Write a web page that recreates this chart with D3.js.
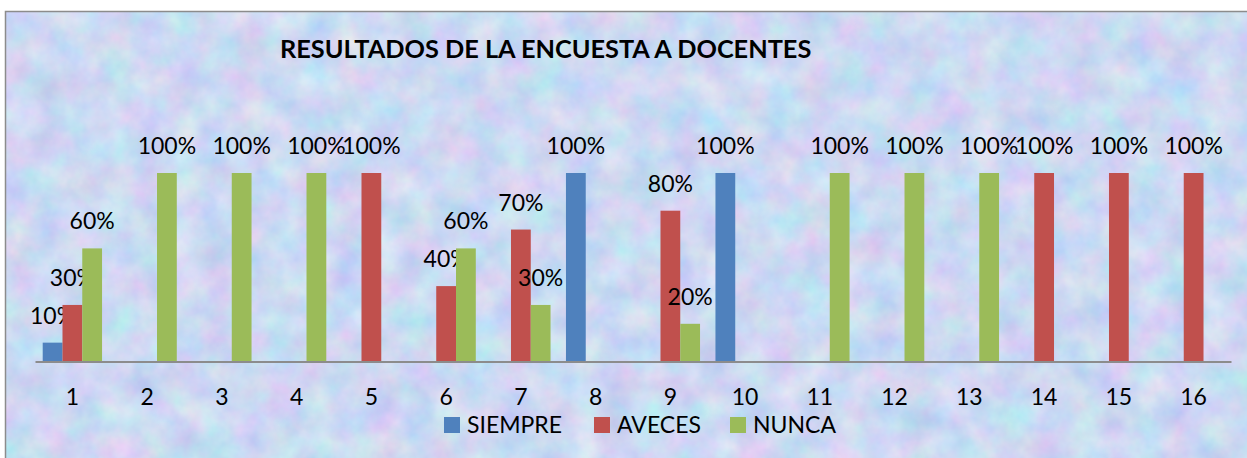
<!DOCTYPE html>
<html>
<head>
<meta charset="utf-8">
<script src="https://d3js.org/d3.v7.min.js"></script>
<style>
  body { margin: 0; background: #fff; }
  svg text { font-family: Lato, "Open Sans", sans-serif; fill: #000; }
</style>
</head>
<body>
<div id="chart"></div>
<script>
// survey data (fractions), one array per series
var categories = ["1","2","3","4","5","6","7","8","9","10","11","12","13","14","15","16"];
var seriesNames = ["SIEMPRE", "AVECES", "NUNCA"];
var siempre = [0.1, 0, 0, 0, 0, 0, 0, 1, 0, 1, 0, 0, 0, 0, 0, 0];
var aveces  = [0.3, 0, 0, 0, 1, 0.4, 0.7, 0, 0.8, 0, 0, 0, 0, 1, 1, 1];
var nunca   = [0.6, 1, 1, 1, 0, 0.6, 0.3, 0, 0.2, 0, 1, 1, 1, 0, 0, 0];
var colors  = ["#4F81BD", "#C0504D", "#9BBB59"];
var title = "RESULTADOS DE LA ENCUESTA A DOCENTES";

function drawChart() {
    var w = 1247, h = 458;
    var values = [siempre, aveces, nunca];

    var svg = d3.select("#chart").append("svg")
        .attr("width", w)
        .attr("height", h);

    // marbled pastel background
    var defs = svg.append("defs");
    var filt = defs.append("filter")
        .attr("id", "marble")
        .attr("color-interpolation-filters", "sRGB")
        .attr("x", 0).attr("y", 0).attr("width", 1).attr("height", 1);
    filt.append("feTurbulence")
        .attr("type", "fractalNoise")
        .attr("baseFrequency", 0.03)
        .attr("numOctaves", 4)
        .attr("seed", 7);
    filt.append("feColorMatrix")
        .attr("type", "matrix")
        .attr("values",
            "0.28 0 0 0 0.66 " +
            "0 0.20 0 0 0.75 " +
            "0 0 0.08 0 0.91 " +
            "0 0 0 0 1");

    svg.append("rect")
        .attr("x", 5.5).attr("y", 11.5)
        .attr("width", 1250).attr("height", 460)
        .attr("filter", "url(#marble)");
    svg.append("rect")
        .attr("x", 5.5).attr("y", 11.5)
        .attr("width", 1250).attr("height", 460)
        .attr("fill", "none")
        .attr("stroke", "#8c8c8c")
        .attr("stroke-width", 1.5);

    svg.append("text")
        .attr("x", 280)
        .attr("y", 58)
        .style("font-size", "25.3px")
        .style("font-weight", "bold")
        .text(title);

    var x0 = d3.scaleBand()
        .domain(categories)
        .range([35, 1231]);

    var x1 = d3.scaleBand()
        .domain(seriesNames)
        .range([0, x0.bandwidth()])
        .paddingOuter(0.39);

    var yScale = d3.scaleLinear()
        .domain([0, 1])
        .range([361.5, 173]);

    var groups = svg.selectAll("g.series")
        .data(seriesNames)
        .enter()
        .append("g")
        .attr("class", "series")
        .style("fill", function(d, i) { return colors[i]; });

    function rows(d, i) {
        return categories.map(function(c, j) {
            return { cat: c, s: d, v: values[i][j] };
        }).filter(function(o) { return o.v > 0; });
    }

    groups.selectAll("rect")
        .data(rows)
        .enter()
        .append("rect")
        .attr("x", function(d) { return x0(d.cat) + x1(d.s); })
        .attr("y", function(d) { return yScale(d.v); })
        .attr("width", x1.bandwidth())
        .attr("height", function(d) { return yScale(0) - yScale(d.v); });

    // value labels
    groups.selectAll("text")
        .data(rows)
        .enter()
        .append("text")
        .attr("x", function(d) { return x0(d.cat) + x1(d.s) + x1.bandwidth() / 2; })
        .attr("y", function(d) { return yScale(d.v) - 19; })
        .attr("text-anchor", "middle")
        .style("fill", "#000")
        .style("font-size", "23px")
        .text(function(d) { return Math.round(d.v * 100) + "%"; });

    // x axis
    var xAxis = d3.axisBottom(x0).tickSize(0).tickPadding(27);
    var ax = svg.append("g")
        .attr("transform", "translate(0,361.5)")
        .call(xAxis);
    ax.select(".domain").attr("stroke", "#8c8c8c").attr("stroke-width", 2);
    ax.selectAll("text")
        .style("font-size", "23px")
        .style("font-family", "Lato, sans-serif");

    // legend
    var legendX = [444, 594, 730];
    var legend = svg.selectAll("g.legend")
        .data(seriesNames)
        .enter()
        .append("g")
        .attr("class", "legend")
        .attr("transform", function(d, i) { return "translate(" + legendX[i] + ",417)"; });
    legend.append("rect")
        .attr("width", 16).attr("height", 16)
        .style("fill", function(d, i) { return colors[i]; });
    legend.append("text")
        .attr("x", 23)
        .attr("y", 16)
        .style("font-size", "23px")
        .text(function(d) { return d; });
}

drawChart();
</script>
</body>
</html>
